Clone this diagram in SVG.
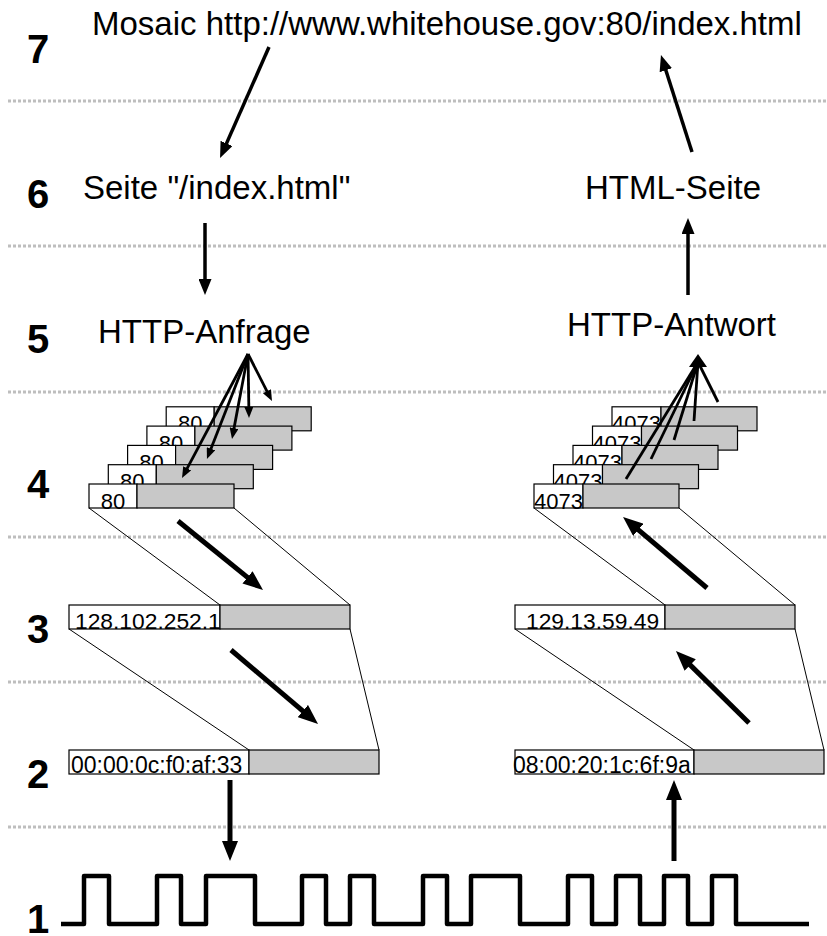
<svg xmlns="http://www.w3.org/2000/svg" width="827" height="936" viewBox="0 0 827 936">
<style>
  text { font-family: "Liberation Sans", Arial, sans-serif; fill: #000; }
  .lbl { font-size: 40px; font-weight: bold; }
  .big { font-size: 33px; }
  .f4 { font-size: 22px; text-anchor: middle; }
  .f3 { font-size: 22.8px; }
  .f2 { font-size: 23px; }
  .dots { stroke: #bebebe; stroke-width: 3; stroke-dasharray: 3 2; fill: none; }
  .wbox { fill: #fff; stroke: #000; stroke-width: 1.2; }
  .gbox { fill: #c8c8c8; stroke: #000; stroke-width: 1.2; }
  .thin { stroke: #000; stroke-width: 1; fill: none; }
  .thick { stroke: #000; stroke-width: 5; fill: none; }
  .mid { stroke: #000; stroke-width: 3.5; fill: none; }
  .fan { stroke: #000; stroke-width: 2.8; fill: none; }
  .sig { stroke: #000; stroke-width: 4.5; fill: none; stroke-linejoin: round; stroke-linecap: butt; }
</style>
<defs>
  <marker id="ah-big" markerUnits="userSpaceOnUse" viewBox="0 0 20 16" markerWidth="20" markerHeight="16" refX="8" refY="8" orient="auto"><path d="M0,0 L20,8 L0,16 z" fill="#000"/></marker>
  <marker id="ah-mid" markerUnits="userSpaceOnUse" viewBox="0 0 16 13" markerWidth="16" markerHeight="13" refX="6" refY="6.5" orient="auto"><path d="M0,0 L16,6.5 L0,13 z" fill="#000"/></marker>
  <marker id="ah-small" markerUnits="userSpaceOnUse" viewBox="0 0 11 9" markerWidth="11" markerHeight="9" refX="4" refY="4.5" orient="auto"><path d="M0,0 L11,4.5 L0,9 z" fill="#000"/></marker>
</defs>
<rect width="827" height="936" fill="#fff"/>

<g id="separators">
  <line class="dots" x1="8" y1="101" x2="827" y2="101"/>
  <line class="dots" x1="8" y1="246" x2="827" y2="246"/>
  <line class="dots" x1="8" y1="392" x2="827" y2="392"/>
  <line class="dots" x1="8" y1="537" x2="827" y2="537"/>
  <line class="dots" x1="8" y1="682" x2="827" y2="682"/>
  <line class="dots" x1="8" y1="827" x2="827" y2="827"/>
</g>

<g id="layer-labels">
  <text class="lbl" x="27" y="63">7</text>
  <text class="lbl" x="27" y="208">6</text>
  <text class="lbl" x="27" y="353">5</text>
  <text class="lbl" x="27" y="498">4</text>
  <text class="lbl" x="27" y="643">3</text>
  <text class="lbl" x="27" y="788">2</text>
  <text class="lbl" x="27" y="933">1</text>
</g>

<g id="node-mosaic"><text class="big" x="92" y="35">Mosaic http://www.whitehouse.gov:80/index.html</text></g>
<g id="node-seite"><text class="big" x="83" y="199">Seite "/index.html"</text></g>
<g id="node-html-seite"><text class="big" x="585" y="199">HTML-Seite</text></g>
<g id="node-http-anfrage"><text class="big" x="98" y="343">HTTP-Anfrage</text></g>
<g id="node-http-antwort"><text class="big" x="567" y="336">HTTP-Antwort</text></g>

<g id="node-tcp-left">
  <rect class="wbox" x="166.2" y="406.8" width="48" height="24"/><rect class="gbox" x="214.2" y="406.8" width="97" height="24"/><text class="f4" x="190.2" y="431.3">80</text>
  <rect class="wbox" x="146.9" y="426.1" width="48" height="24"/><rect class="gbox" x="194.9" y="426.1" width="97" height="24"/><text class="f4" x="170.9" y="450.6">80</text>
  <rect class="wbox" x="127.6" y="445.4" width="48" height="24"/><rect class="gbox" x="175.6" y="445.4" width="97" height="24"/><text class="f4" x="151.6" y="469.9">80</text>
  <rect class="wbox" x="108.3" y="464.7" width="48" height="24"/><rect class="gbox" x="156.3" y="464.7" width="97" height="24"/><text class="f4" x="132.3" y="489.2">80</text>
  <rect class="wbox" x="89" y="484" width="48" height="24"/><rect class="gbox" x="137" y="484" width="97" height="24"/><text class="f4" x="113" y="508.5">80</text>
</g>

<g id="node-tcp-right">
  <rect class="wbox" x="612" y="406.8" width="49" height="24"/><rect class="gbox" x="661" y="406.8" width="96" height="24"/><text class="f4" x="636.5" y="431.3">4073</text>
  <rect class="wbox" x="592.5" y="426.1" width="49" height="24"/><rect class="gbox" x="641.5" y="426.1" width="96" height="24"/><text class="f4" x="617" y="450.6">4073</text>
  <rect class="wbox" x="573" y="445.4" width="49" height="24"/><rect class="gbox" x="622" y="445.4" width="96" height="24"/><text class="f4" x="597.5" y="469.9">4073</text>
  <rect class="wbox" x="553.5" y="464.7" width="49" height="24"/><rect class="gbox" x="602.5" y="464.7" width="96" height="24"/><text class="f4" x="578" y="489.2">4073</text>
  <rect class="wbox" x="534" y="484" width="49" height="24"/><rect class="gbox" x="583" y="484" width="96" height="24"/><text class="f4" x="558.5" y="508.5">4073</text>
</g>

<g id="node-ip-left">
  <rect class="wbox" x="69" y="605" width="151" height="24"/><rect class="gbox" x="220" y="605" width="130" height="24"/>
  <text class="f3" x="75" y="628.5">128.102.252.1</text>
</g>
<g id="node-ip-right">
  <rect class="wbox" x="515" y="605" width="150" height="24"/><rect class="gbox" x="665" y="605" width="130" height="24"/>
  <text class="f3" x="526" y="628.5">129.13.59.49</text>
</g>
<g id="node-eth-left">
  <rect class="wbox" x="69" y="750" width="180" height="24"/><rect class="gbox" x="249" y="750" width="130" height="24"/>
  <text class="f2" x="71" y="773">00:00:0c:f0:af:33</text>
</g>
<g id="node-eth-right">
  <rect class="wbox" x="515" y="750" width="179" height="24"/><rect class="gbox" x="694" y="750" width="130" height="24"/>
  <text class="f2" x="513" y="773">08:00:20:1c:6f:9a</text>
</g>

<g id="node-signal">
  <path class="sig" d="M61,924 H84 V876 H109 V924 H157 V876 H181 V924 H206 V876 H255 V924 H302 V876 H326 V924 H350 V876 H374 V924 H423 V876 H447 V924 H471 V876 H520 V924 H568 V876 H592 V924 H616 V876 H640 V924 H664 V876 H688 V924 H712 V876 H736 V924 H809"/>
</g>

<g id="connectors">
  <!-- encapsulation outlines -->
  <line class="thin" x1="89" y1="508" x2="220" y2="605"/>
  <line class="thin" x1="234" y1="508" x2="350" y2="605"/>
  <line class="thin" x1="69" y1="629" x2="249" y2="750"/>
  <line class="thin" x1="350" y1="629" x2="379" y2="750"/>
  <line class="thin" x1="534" y1="508" x2="665" y2="605"/>
  <line class="thin" x1="679" y1="508" x2="795" y2="605"/>
  <line class="thin" x1="515" y1="629" x2="694" y2="750"/>
  <line class="thin" x1="795" y1="629" x2="824" y2="750"/>

  <!-- top arrows -->
  <line class="mid" x1="269" y1="47" x2="224.1" y2="148.9" marker-end="url(#ah-mid)"/>
  <line class="mid" x1="205" y1="223" x2="205" y2="285" marker-end="url(#ah-mid)"/>
  <line class="mid" x1="692" y1="152" x2="664" y2="64.5" marker-end="url(#ah-mid)"/>
  <line class="mid" x1="688" y1="295" x2="688" y2="228" marker-end="url(#ah-mid)"/>

  <!-- left fan -->
  <line class="fan" x1="248" y1="354" x2="268.8" y2="394.8" marker-end="url(#ah-small)"/>
  <line class="fan" x1="248" y1="354" x2="248.9" y2="411" marker-end="url(#ah-small)"/>
  <line class="fan" x1="248" y1="354" x2="233.3" y2="432.1" marker-end="url(#ah-small)"/>
  <line class="fan" x1="248" y1="354" x2="209.5" y2="452.5" marker-end="url(#ah-small)"/>
  <line class="fan" x1="248" y1="354" x2="185.3" y2="471.8" marker-end="url(#ah-small)"/>

  <!-- right fan -->
  <line class="fan" x1="718" y1="402" x2="698" y2="362"/>
  <line class="fan" x1="694" y1="421" x2="698" y2="362"/>
  <line class="fan" x1="674" y1="440" x2="698" y2="362"/>
  <line class="fan" x1="651" y1="459" x2="698" y2="362"/>
  <line class="fan" x1="626" y1="479" x2="698" y2="362"/>
  <path d="M698,354 L707,367 L689,367 z" fill="#000"/>

  <!-- big arrows -->
  <line class="thick" x1="178" y1="521" x2="253.7" y2="582.4" marker-end="url(#ah-big)"/>
  <line class="thick" x1="231" y1="650" x2="308.9" y2="716.2" marker-end="url(#ah-big)"/>
  <line class="thick" x1="707" y1="588" x2="632.2" y2="524.7" marker-end="url(#ah-big)"/>
  <line class="thick" x1="749" y1="723" x2="684.5" y2="659.4" marker-end="url(#ah-big)"/>
  <line class="thick" x1="230" y1="780" x2="230" y2="849" marker-end="url(#ah-big)"/>
  <line class="thick" x1="674" y1="861" x2="674" y2="792" marker-end="url(#ah-big)"/>
</g>
</svg>
